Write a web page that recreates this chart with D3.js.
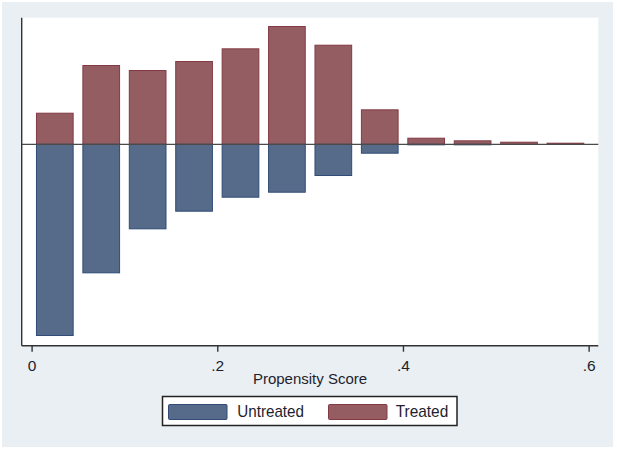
<!DOCTYPE html>
<html>
<head>
<meta charset="utf-8">
<script src="https://cdn.jsdelivr.net/npm/d3@7"></script>
<style>
  body { margin: 0; background: #fff; }
  text { font-family: "Liberation Sans", Arial, sans-serif; fill: #1e1e2e; }
</style>
</head>
<body>
<svg id="chart"></svg>
<script>
// bin midpoints of the propensity score histogram
const binMids = [0.025, 0.075, 0.125, 0.175, 0.225, 0.275, 0.325, 0.375, 0.425, 0.475, 0.525, 0.575]
// fraction of each group in every bin
const treated   = [0.0506, 0.1269, 0.1189, 0.1333, 0.1536, 0.1893, 0.1594, 0.056, 0.0106, 0.0064, 0.0042, 0.0026]
const untreated = [0.3067, 0.2064, 0.136, 0.1078, 0.0854, 0.0774, 0.0507, 0.015, 0.0011, 0.0005, 0, 0]
const xTicks = [0, 0.2, 0.4, 0.6]
const tickLabels = ['0', '.2', '.4', '.6']
const legendItems = ['Untreated', 'Treated']

const binWidth = 0.0406
const colors = {
  untreated: {fill: '#566b8a', stroke: '#2f4b76'},
  treated: {fill: '#945d62', stroke: '#833a44'}
}

const width = 617
const height = 449
const plot = {left: 21.7, right: 598.3, top: 17.7, bottom: 345.7}

const svg = d3.select('#chart')
  .attr('width', width)
  .attr('height', height)

// graph region
svg.append('rect')
  .attr('x', 2).attr('y', 2)
  .attr('width', 611).attr('height', 445)
  .attr('fill', '#e9eff3')

// plot region
svg.append('rect')
  .attr('x', plot.left).attr('y', plot.top)
  .attr('width', plot.right - plot.left)
  .attr('height', plot.bottom - plot.top)
  .attr('fill', '#fff')

const xScale = d3.scaleLinear()
  .domain([-0.01066, 0.6104])
  .range([plot.left, plot.right])

const yScale = d3.scaleLinear()
  .domain([-0.3222, 0.2026])
  .range([plot.bottom, plot.top])

const rows = binMids.map((m, i) => ({mid: m, treated: treated[i], untreated: untreated[i]}))

// treated bars go up
svg.append('g').selectAll('rect')
  .data(rows.filter(d => d.treated > 0))
  .enter()
  .append('rect')
  .attr('x', d => xScale(d.mid - binWidth / 2) + 0.5)
  .attr('width', d => xScale(d.mid + binWidth / 2) - xScale(d.mid - binWidth / 2) - 1)
  .attr('y', d => yScale(d.treated) + 0.5)
  .attr('height', d => Math.max(0.5, yScale(0) - yScale(d.treated) - 0.5))
  .attr('fill', colors.treated.fill)
  .attr('stroke', colors.treated.stroke)
  .attr('stroke-width', 1)

// untreated bars go down (mirrored)
svg.append('g').selectAll('rect')
  .data(rows.filter(d => d.untreated > 0))
  .enter()
  .append('rect')
  .attr('x', d => xScale(d.mid - binWidth / 2) + 0.5)
  .attr('width', d => xScale(d.mid + binWidth / 2) - xScale(d.mid - binWidth / 2) - 1)
  .attr('y', yScale(0))
  .attr('height', d => Math.max(0.5, yScale(-d.untreated) - yScale(0) - 0.5))
  .attr('fill', colors.untreated.fill)
  .attr('stroke', colors.untreated.stroke)
  .attr('stroke-width', 1)

// zero line
svg.append('line')
  .attr('x1', plot.left).attr('x2', plot.right)
  .attr('y1', yScale(0)).attr('y2', yScale(0))
  .attr('stroke', '#4a4a4a')
  .attr('stroke-width', 1.4)

// y axis: line only
svg.append('line')
  .attr('x1', plot.left).attr('x2', plot.left)
  .attr('y1', plot.top).attr('y2', plot.bottom)
  .attr('stroke', '#333')
  .attr('stroke-width', 1.4)

// x axis
const xAxis = svg.append('g')
  .attr('transform', `translate(0,${plot.bottom})`)
  .call(d3.axisBottom(xScale)
    .tickValues(xTicks)
    .tickFormat((d, i) => tickLabels[i])
    .tickSize(6)
    .tickPadding(8)
    .tickSizeOuter(0))

xAxis.select('.domain')
  .attr('d', `M${plot.left},0H${plot.right}`)
  .attr('stroke', '#333')
  .attr('stroke-width', 1.4)
xAxis.selectAll('.tick line').attr('stroke', '#333').attr('stroke-width', 1.4)
xAxis.selectAll('.tick text')
  .attr('font-family', '"Liberation Sans", Arial, sans-serif')
  .attr('font-size', 15.5)
  .attr('fill', '#1e1e2e')

svg.append('text')
  .attr('text-anchor', 'middle')
  .attr('x', 310)
  .attr('y', 384)
  .attr('font-size', 15)
  .text('Propensity Score')

// legend
svg.append('rect')
  .attr('x', 162.5).attr('y', 396.5)
  .attr('width', 294.5).attr('height', 29)
  .attr('fill', '#fff')
  .attr('stroke', '#222')
  .attr('stroke-width', 1.5)

const legendX = [[168.5, 237.3, 66.7], [328.5, 395.7, 52.6]]
const legendColors = [colors.untreated, colors.treated]
legendItems.forEach((name, i) => {
  svg.append('rect')
    .attr('x', legendX[i][0]).attr('y', 404.5)
    .attr('width', 58.5).attr('height', 15)
    .attr('rx', 1)
    .attr('fill', legendColors[i].fill)
    .attr('stroke', legendColors[i].stroke)
    .attr('stroke-width', 1)
  svg.append('text')
    .attr('x', legendX[i][1])
    .attr('y', 416.7)
    .attr('font-size', 17)
    .attr('textLength', legendX[i][2])
    .attr('lengthAdjust', 'spacingAndGlyphs')
    .text(name)
})
</script>
</body>
</html>
